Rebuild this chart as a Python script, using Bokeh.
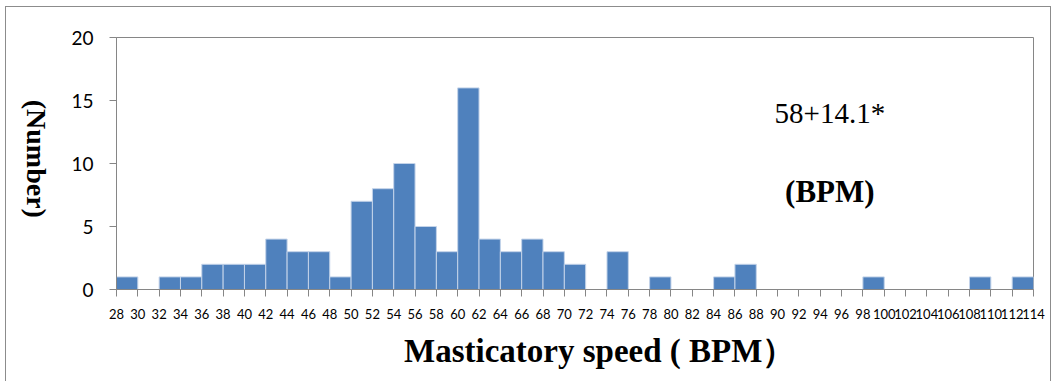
import math
from bokeh.plotting import figure
from bokeh.models import FixedTicker, Label, Range1d
from bokeh.layouts import row
from bokeh.embed import file_html
from bokeh.resources import INLINE

# bin starts (width 2 BPM)
bin_start = [28, 30, 32, 34, 36, 38, 40, 42, 44, 46, 48, 50, 52, 54, 56, 58, 60,
             62, 64, 66, 68, 70, 72, 74, 76, 78, 80, 82, 84, 86, 88, 90, 92, 94,
             96, 98, 100, 102, 104, 106, 108, 110, 112]
counts = [1, 0, 1, 1, 2, 2, 2, 4, 3, 3, 1, 7, 8, 10, 5, 3, 16,
          4, 3, 4, 3, 2, 0, 3, 0, 1, 0, 0, 1, 2, 0, 0, 0, 0,
          0, 1, 0, 0, 0, 0, 1, 0, 1]
bin_width = 2
x_ticks = bin_start + [114]
y_ticks = [0, 5, 10, 15, 20]
x_title = "Masticatory speed ( BPM）"
y_title = "(Number)"
note1 = "58+14.1*"
note2 = "(BPM)"

# narrow panel holding the vertical y title (reads top to bottom)
lab = figure(width=60, height=374, output_backend="svg", toolbar_location=None,
             x_range=Range1d(0, 60), y_range=Range1d(0, 374),
             min_border=0, min_border_left=0, min_border_right=0,
             min_border_top=0, min_border_bottom=0)
lab.axis.visible = False
lab.grid.visible = False
lab.outline_line_color = None
lab.add_layout(Label(x=30, y=194, text=y_title, angle=-math.pi / 2,
                     text_align="center", text_baseline="middle",
                     text_font="Liberation Serif", text_font_style="bold",
                     text_font_size="28px", text_color="black"))

p = figure(width=984, height=374, output_backend="svg", toolbar_location=None,
           x_range=Range1d(28, 114), y_range=Range1d(0, 20),
           frame_width=917, frame_height=252,
           min_border_left=50, min_border_right=17, min_border_top=30, min_border_bottom=92)

lefts = bin_start
rights = [b + bin_width for b in bin_start]
p.quad(left=lefts, right=rights, bottom=0, top=counts,
       fill_color="#4F81BD", line_color="#c3d3e9", line_width=1)

p.xgrid.visible = False
p.ygrid.visible = False
p.outline_line_color = "#868686"
p.outline_line_width = 1

for ax in (p.xaxis[0], p.yaxis[0]):
    ax.axis_line_color = "#868686"
    ax.major_tick_line_color = "#868686"
    ax.minor_tick_line_color = None
    ax.major_tick_in = 0
    ax.major_tick_out = 7
    ax.major_label_text_color = "black"
    ax.major_label_text_font = "Lato"

p.xaxis.ticker = FixedTicker(ticks=x_ticks)
p.yaxis.ticker = FixedTicker(ticks=y_ticks)
p.xaxis.major_label_text_font_size = "13px"
p.yaxis.major_label_text_font_size = "19px"
p.xaxis.major_label_standoff = 12
p.yaxis.major_label_standoff = 16

p.xaxis.axis_label = "\u00a0" * 6 + x_title
p.xaxis.axis_label_text_font = "Liberation Serif"
p.xaxis.axis_label_text_font_style = "bold"
p.xaxis.axis_label_text_font_size = "33px"
p.xaxis.axis_label_text_color = "black"
p.xaxis.axis_label_standoff = 11

p.add_layout(Label(x=94.9, y=14.0, text=note1, text_align="center", text_baseline="middle",
                   text_font="Liberation Serif", text_font_size="29px", text_color="black"))
p.add_layout(Label(x=94.9, y=7.8, text=note2, text_align="center", text_baseline="middle",
                   text_font="Liberation Serif", text_font_style="bold",
                   text_font_size="31px", text_color="black"))

layout = row(lab, p, spacing=0, margin=(7, 2, 0, 6))
layout.styles = {"outline": "1px solid #8c8c8c"}

open("out.html", "w").write(file_html(layout, INLINE))
